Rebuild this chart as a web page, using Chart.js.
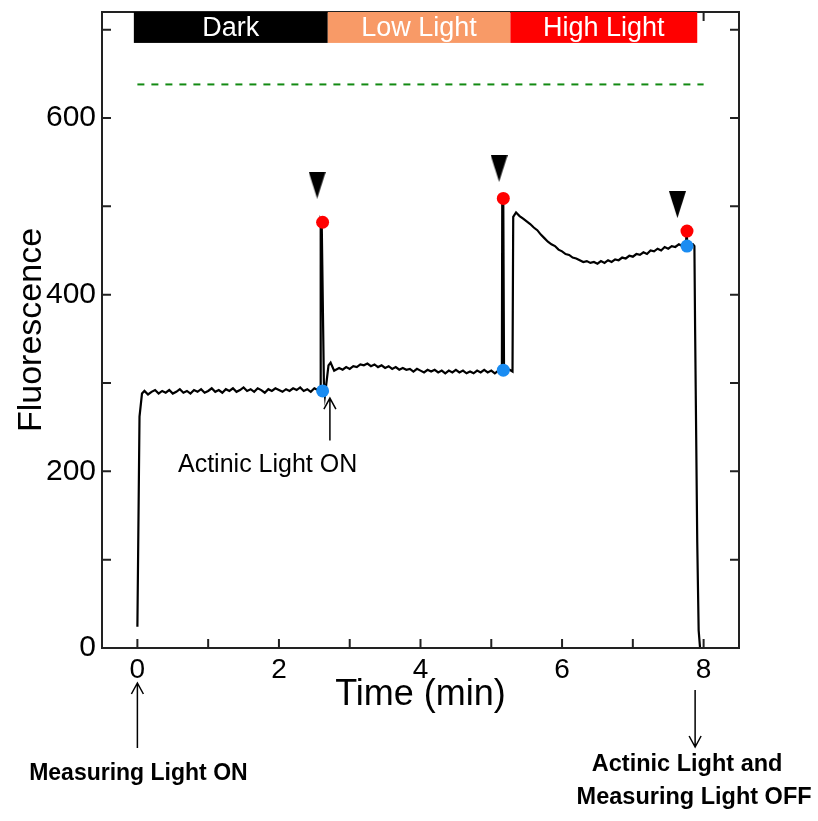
<!DOCTYPE html>
<html>
<head>
<meta charset="utf-8">
<script src="https://cdn.jsdelivr.net/npm/chart.js@4.4.1/dist/chart.umd.min.js"></script>
<style>
  body { margin: 0; background: #fff; }
  #wrap { width: 818px; height: 821px; }
</style>
</head>
<body>
<div id="wrap"><canvas id="myChart" width="818" height="821"></canvas></div>
<script>
// fluorescence trace (time in min)
const timeMin = [
  0, 0.03, 0.065, 0.10, 0.15, 0.20, 0.25, 0.30, 0.35, 0.40, 0.45, 0.50, 0.55, 0.60, 0.65, 0.70,
  0.75, 0.80, 0.85, 0.90, 0.95, 1.00, 1.05, 1.10, 1.15, 1.20, 1.25, 1.30, 1.35, 1.40, 1.45, 1.50,
  1.55, 1.60, 1.65, 1.70, 1.75, 1.80, 1.85, 1.90, 1.95, 2.00, 2.05, 2.10, 2.15, 2.20, 2.25, 2.30,
  2.35, 2.40, 2.45, 2.50, 2.55, 2.585, 2.59, 2.605, 2.635, 2.65, 2.70, 2.73, 2.78,
  2.85, 2.90, 2.95, 3.00, 3.05, 3.10, 3.15, 3.20, 3.25, 3.30, 3.35, 3.40, 3.45, 3.50, 3.55, 3.60,
  3.65, 3.70, 3.75, 3.80, 3.85, 3.90, 3.95, 4.00, 4.05, 4.10, 4.15, 4.20, 4.25, 4.30, 4.35, 4.40,
  4.45, 4.50, 4.55, 4.60, 4.65, 4.70, 4.75, 4.80, 4.85, 4.90, 4.95, 5.00, 5.05, 5.10, 5.15,
  5.155, 5.17, 5.18, 5.22, 5.26, 5.30, 5.31, 5.35,
  5.40, 5.45, 5.50, 5.55, 5.60, 5.65, 5.70, 5.75, 5.80, 5.85, 5.90, 5.95, 6.00, 6.05, 6.10, 6.15,
  6.20, 6.25, 6.30, 6.35, 6.40, 6.45, 6.50, 6.55, 6.60, 6.65, 6.70, 6.75, 6.80, 6.85, 6.90, 6.95,
  7.00, 7.05, 7.10, 7.15, 7.20, 7.25, 7.30, 7.35, 7.40, 7.45, 7.50, 7.55, 7.60, 7.65, 7.70, 7.75,
  7.76, 7.77, 7.80, 7.85, 7.87, 7.88, 7.91, 7.93, 7.95
];
const fluorescence = [
  24, 262, 288, 291, 287, 290, 292, 288, 291, 289, 292, 288, 290, 293, 289, 291,
  288, 292, 290, 293, 289, 291, 294, 290, 292, 289, 293, 291, 294, 290, 292, 295,
  291, 293, 290, 294, 292, 289, 293, 291, 294, 292, 290, 293, 291, 294, 292, 295,
  291, 293, 290, 294, 292, 293, 482, 478, 300, 286, 320, 323, 314,
  317, 315, 318, 316, 319, 318, 321, 320, 322, 319, 321, 318, 320, 317, 319, 316,
  318, 315, 317, 315, 316, 313, 316, 314, 312, 315, 313, 315, 312, 314, 311, 314,
  312, 315, 312, 314, 311, 313, 311, 314, 312, 315, 312, 314, 311, 314, 313,
  509, 502, 315, 313, 315, 313, 488, 493,
  489, 486, 483, 480, 476, 473, 468, 464, 460, 457, 455, 451, 449, 446, 445, 442,
  441, 439, 437, 438, 436, 437, 435, 438, 436, 439, 437, 440, 439, 442, 441, 444,
  443, 446, 445, 448, 446, 450, 449, 452, 450, 454, 452, 455, 454, 457, 455, 456,
  472, 457, 458, 457, 455, 360, 120, 20, 0
];

// saturating pulse: Fm' (red) and Fs (blue) readings, pulse markers
const pulseTime = [2.617, 5.17, 7.765];
const fmValues = [482, 509, 472];
const fsValues = [291, 314.5, 455];
const markerTime = [2.54, 5.11, 7.63];
const markerValues = [524, 543, 502];

// Fm reference (dashed)
const fmRefTime = [0, 8];
const fmRefValues = [638, 638];

// light phases
const phaseLabels = ['Dark', 'Low Light', 'High Light'];
const phaseStart = [-0.05, 2.69, 5.27];
const phaseEnd = [2.69, 5.27, 7.91];
const phaseColors = ['#000000', '#f89a67', '#ff0000'];

const xTicks = [0, 1, 2, 3, 4, 5, 6, 7, 8];
const yTicks = [0, 100, 200, 300, 400, 500, 600, 700];

const FONT = '"Liberation Sans", Arial, sans-serif';

function xy(xs, ys) {
  return xs.map((x, i) => ({ x: x, y: ys[i] }));
}

// tall down-pointing triangle for the pulse markers
function makeTriangle() {
  let c = document.createElement('canvas');
  c.width = 17; c.height = 27;
  let g = c.getContext('2d');
  g.fillStyle = '#000';
  g.beginPath();
  g.moveTo(0, 0); g.lineTo(17, 0); g.lineTo(8.5, 27);
  g.closePath();
  g.fill();
  return c;
}

function arrow(ctx, x, y1, y2) {
  // line from y1 to y2, open head at y2
  let d = y2 > y1 ? -1 : 1;
  ctx.beginPath();
  ctx.moveTo(x, y1); ctx.lineTo(x, y2);
  ctx.moveTo(x - 6, y2 + d * 11); ctx.lineTo(x, y2); ctx.lineTo(x + 6, y2 + d * 11);
  ctx.stroke();
}

const decorations = {
  id: 'decorations',
  afterDatasetsDraw(chart) {
    const { ctx, chartArea: a, scales: { x, y } } = chart;
    ctx.save();
    // frame with inward ticks
    ctx.strokeStyle = '#222';
    ctx.lineWidth = 2;
    ctx.strokeRect(a.left, a.top, a.right - a.left, a.bottom - a.top);
    ctx.beginPath();
    xTicks.forEach(v => {
      let px = x.getPixelForValue(v);
      ctx.moveTo(px, a.bottom); ctx.lineTo(px, a.bottom - 9);
      ctx.moveTo(px, a.top); ctx.lineTo(px, a.top + 9);
    });
    yTicks.forEach(v => {
      let py = y.getPixelForValue(v);
      ctx.moveTo(a.left, py); ctx.lineTo(a.left + 9, py);
      ctx.moveTo(a.right, py); ctx.lineTo(a.right - 9, py);
    });
    ctx.stroke();

    // phase bands
    let bTop = y.getPixelForValue(720), bBot = y.getPixelForValue(685);
    phaseLabels.forEach((lab, i) => {
      let x0 = x.getPixelForValue(phaseStart[i]), x1 = x.getPixelForValue(phaseEnd[i]);
      ctx.fillStyle = phaseColors[i];
      ctx.fillRect(x0, bTop, x1 - x0, bBot - bTop);
      ctx.fillStyle = '#fff';
      ctx.font = '27px ' + FONT;
      ctx.textAlign = 'center';
      ctx.textBaseline = 'middle';
      ctx.fillText(lab, (x0 + x1) / 2, (bTop + bBot) / 2 + 1);
    });

    // annotations
    ctx.strokeStyle = '#000';
    ctx.fillStyle = '#000';
    ctx.lineWidth = 1.5;
    arrow(ctx, x.getPixelForValue(2.72), y.getPixelForValue(235), y.getPixelForValue(283));
    ctx.font = '25px ' + FONT;
    ctx.textAlign = 'center';
    ctx.textBaseline = 'middle';
    ctx.fillText('Actinic Light ON', x.getPixelForValue(1.84), y.getPixelForValue(207));

    let x0 = x.getPixelForValue(0);
    arrow(ctx, x0, a.bottom + 100, a.bottom + 35);
    ctx.font = 'bold 23px ' + FONT;
    ctx.fillText('Measuring Light ON', x0 + 1, a.bottom + 126);

    let xOff = x.getPixelForValue(7.88);
    arrow(ctx, xOff, a.bottom + 42, a.bottom + 99);
    ctx.font = 'bold 23.5px ' + FONT;
    ctx.fillText('Actinic Light and', xOff - 8, a.bottom + 117);
    ctx.fillText('Measuring Light OFF', xOff - 1, a.bottom + 150);
    ctx.restore();
  }
};

new Chart('myChart', {
  type: 'line',
  data: {
    datasets: [
      {
        data: xy(markerTime, markerValues),
        showLine: false,
        pointStyle: makeTriangle(),
        pointRadius: 10,
        order: 0
      },
      {
        data: xy(pulseTime, fsValues),
        showLine: false,
        pointRadius: 6.5,
        pointBackgroundColor: '#1a8cf2',
        pointBorderWidth: 0,
        order: 1
      },
      {
        data: xy(pulseTime, fmValues),
        showLine: false,
        pointRadius: 6.5,
        pointBackgroundColor: '#ff0000',
        pointBorderWidth: 0,
        order: 2
      },
      {
        data: xy(timeMin, fluorescence),
        borderColor: '#000',
        borderWidth: 2.2,
        pointRadius: 0,
        tension: 0,
        order: 3
      },
      {
        data: xy(fmRefTime, fmRefValues),
        borderColor: '#138a13',
        borderWidth: 2,
        borderDash: [7, 7],
        pointRadius: 0,
        order: 4
      }
    ]
  },
  options: {
    responsive: false,
    animation: false,
    layout: { padding: { left: 0, top: 12, right: 79, bottom: 0 } },
    plugins: { legend: { display: false }, tooltip: { enabled: false } },
    scales: {
      x: {
        type: 'linear',
        min: -0.5,
        max: 8.5,
        grid: { display: false, drawTicks: false },
        border: { display: false },
        ticks: {
          autoSkip: false,
          maxRotation: 0,
          padding: 5,
          color: '#000',
          font: { family: FONT, size: 28 },
          callback: v => (v % 2 === 0 ? v : '')
        },
        afterBuildTicks: s => { s.ticks = xTicks.map(v => ({ value: v })); },
        title: {
          display: true,
          text: 'Time (min)',
          color: '#000',
          font: { family: FONT, size: 36 },
          padding: { top: 0, bottom: 104 }
        },
        afterFit: s => {
          s.height = 173;
          s.paddingLeft = 0; s.paddingRight = 0;
        }
      },
      y: {
        min: 0,
        max: 720,
        grid: { display: false, drawTicks: false },
        border: { display: false },
        ticks: {
          padding: 6,
          color: '#000',
          font: { family: FONT, size: 30 },
          callback: v => (v % 200 === 0 ? v : '')
        },
        afterBuildTicks: s => { s.ticks = yTicks.map(v => ({ value: v })); },
        title: {
          display: true,
          text: 'Fluorescence',
          color: '#000',
          font: { family: FONT, size: 34 },
          padding: { top: 11, bottom: 0 }
        },
        afterFit: s => {
          s.width = 102;
          s.paddingTop = 0; s.paddingBottom = 0;
        }
      }
    }
  },
  plugins: [decorations]
});
</script>
</body>
</html>
